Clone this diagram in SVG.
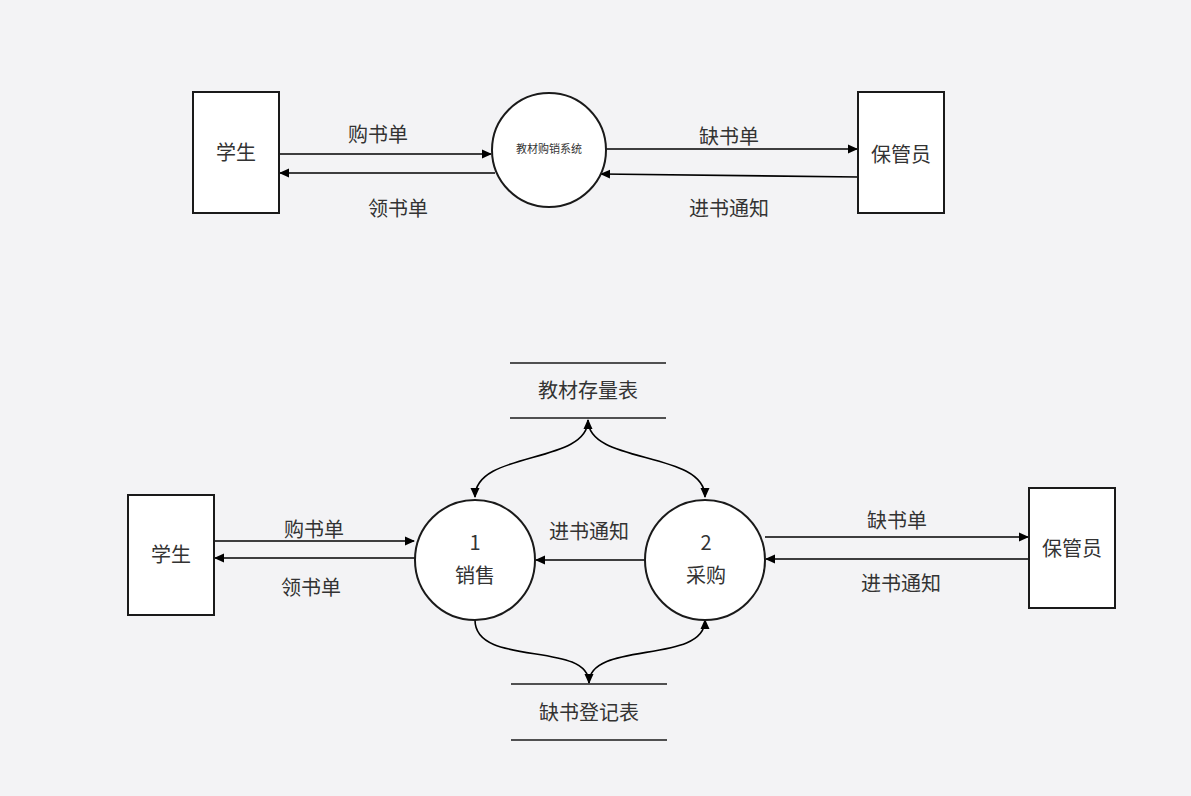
<svg xmlns="http://www.w3.org/2000/svg" width="1191" height="796" viewBox="0 0 1191 796">
<defs>
<marker id="ah" viewBox="0 0 10 10" refX="9" refY="5" markerWidth="10" markerHeight="10" markerUnits="userSpaceOnUse" orient="auto-start-reverse"><path d="M0,0.5 L10,5 L0,9.5 Z" fill="#000"/></marker>
<style>
.box{fill:#fff;stroke:#1a1a1a;stroke-width:2}
.t{font-family:"Noto Sans CJK SC","Noto Sans",sans-serif;font-size:20px;fill:#333;text-anchor:middle;dominant-baseline:central}
.ln{fill:none;stroke:#000;stroke-width:1.6}
.st{stroke:#1a1a1a;stroke-width:1.6}
</style>
</defs>
<rect width="1191" height="796" fill="#f3f3f5"/>
<g id="conn">
<path class="ln" d="M279,154 L491,154" marker-end="url(#ah)"/>
<path class="ln" d="M495,173 L280,173" marker-end="url(#ah)"/>
<path class="ln" d="M606,149 L857,149" marker-end="url(#ah)"/>
<path class="ln" d="M858,177 L601,174" marker-end="url(#ah)"/>
<path class="ln" d="M214,541 L414,541" marker-end="url(#ah)"/>
<path class="ln" d="M415,558 L215,558" marker-end="url(#ah)"/>
<path class="ln" d="M645,560 L536,560" marker-end="url(#ah)"/>
<path class="ln" d="M765,537 L1028,537" marker-end="url(#ah)"/>
<path class="ln" d="M1029,559 L766,559" marker-end="url(#ah)"/>
<path class="ln" d="M588,420 C588,465 475,450 475,497" marker-start="url(#ah)" marker-end="url(#ah)"/>
<path class="ln" d="M588,420 C588,465 705,450 705,497" marker-end="url(#ah)"/>
<path class="ln" d="M475,620 C475,668 589,640 589,683" marker-end="url(#ah)"/>
<path class="ln" d="M589,683 C589,640 705,665 705,620" marker-end="url(#ah)"/>
<text class="t" x="378" y="133">购书单</text>
<text class="t" x="398" y="207">领书单</text>
<text class="t" x="729" y="135">缺书单</text>
<text class="t" x="729" y="207">进书通知</text>
<text class="t" x="314" y="528">购书单</text>
<text class="t" x="311" y="586">领书单</text>
<text class="t" x="589" y="530">进书通知</text>
<text class="t" x="897" y="519">缺书单</text>
<text class="t" x="901" y="582">进书通知</text>
</g>
<g id="student1"><rect class="box" x="193" y="92" width="86" height="121"/><text class="t" x="236" y="151">学生</text></g>
<g id="system"><circle class="box" cx="549" cy="150" r="57"/><text class="t" x="549" y="148" style="font-size:11px">教材购销系统</text></g>
<g id="keeper1"><rect class="box" x="858" y="92" width="86" height="121"/><text class="t" x="901" y="153">保管员</text></g>
<g id="student2"><rect class="box" x="128" y="495" width="86" height="120"/><text class="t" x="171" y="553">学生</text></g>
<g id="p1"><circle class="box" cx="475" cy="560" r="60"/><text class="t" x="475" y="541">1</text><text class="t" x="475" y="574">销售</text></g>
<g id="p2"><circle class="box" cx="705" cy="560" r="60"/><text class="t" x="706" y="541">2</text><text class="t" x="706" y="574">采购</text></g>
<g id="keeper2"><rect class="box" x="1029" y="488" width="86" height="120"/><text class="t" x="1072" y="547">保管员</text></g>
<g id="store1"><line class="st" x1="510" y1="363" x2="666" y2="363"/><line class="st" x1="510" y1="418" x2="666" y2="418"/><text class="t" x="588" y="389">教材存量表</text></g>
<g id="store2"><line class="st" x1="511" y1="684" x2="667" y2="684"/><line class="st" x1="511" y1="740" x2="667" y2="740"/><text class="t" x="589" y="711">缺书登记表</text></g>
</svg>
